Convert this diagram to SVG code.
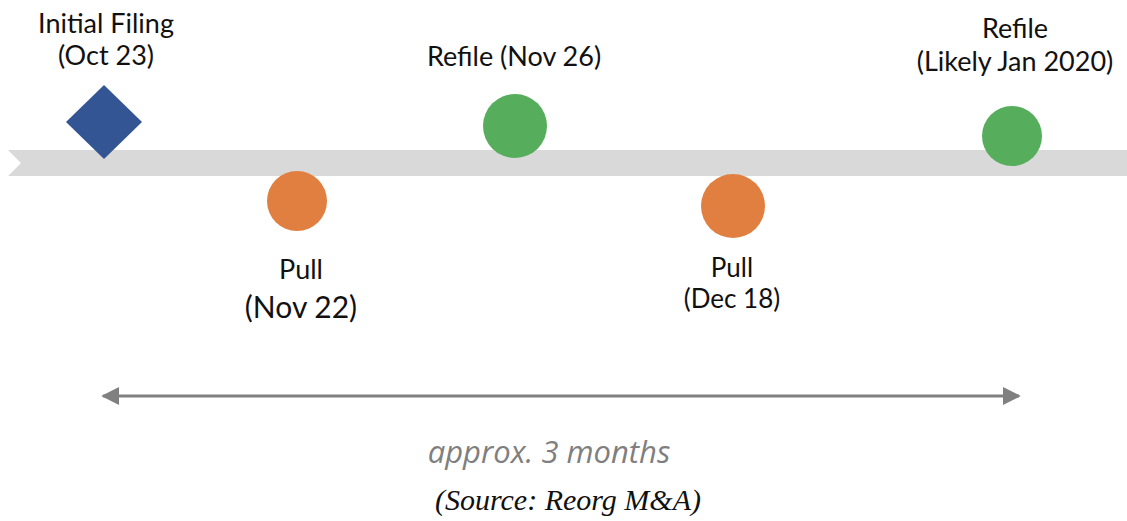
<svg xmlns="http://www.w3.org/2000/svg" width="1127" height="521" viewBox="0 0 1127 521">
<style>
.lbl{font-family:Lato,"Liberation Sans",sans-serif;fill:#111;text-anchor:middle}
.band{fill:#D9D9D9}
.orange{fill:#E07F40}
.green{fill:#56AD5C}
.blue{fill:#335593}
</style>
<defs>
<marker id="ah" viewBox="0 0 10 10" refX="9" refY="5" markerWidth="6" markerHeight="6" orient="auto-start-reverse">
<path d="M0,0 L10,5 L0,10 z" fill="#808080"/>
</marker>
</defs>
<rect width="1127" height="521" fill="#fff"/>
<g id="timeline"><polygon class="band" points="8,150 1127,150 1127,176 8,176 21,163"/></g>
<g id="connectors">
<line x1="103" y1="396" x2="1019" y2="396" stroke="#808080" stroke-width="3" marker-start="url(#ah)" marker-end="url(#ah)"/>
</g>
<g id="initial-filing">
<polygon class="blue" points="104,85 142,122 104,159 66,122"/>
<text class="lbl" x="106" y="33" font-size="27">Initial Filing</text>
<text class="lbl" x="106" y="65" font-size="27">(Oct 23)</text>
</g>
<g id="pull1">
<circle class="orange" cx="297" cy="201" r="30"/>
<text class="lbl" x="301" y="279" font-size="27">Pull</text>
<text class="lbl" x="301" y="318" font-size="30">(Nov 22)</text>
</g>
<g id="refile1">
<circle class="green" cx="515" cy="126" r="32"/>
<text class="lbl" x="514" y="66" font-size="27">Refile (Nov 26)</text>
</g>
<g id="pull2">
<circle class="orange" cx="733" cy="206" r="32"/>
<text class="lbl" x="732" y="277" font-size="26">Pull</text>
<text class="lbl" x="732" y="308" font-size="26">(Dec 18)</text>
</g>
<g id="refile2">
<circle class="green" cx="1012" cy="136" r="30"/>
<text class="lbl" x="1015" y="38" font-size="27">Refile</text>
<text class="lbl" x="1015" y="71" font-size="27">(Likely Jan 2020)</text>
</g>
<g id="duration">
<text x="549" y="463" font-family="'Open Sans','Noto Sans',sans-serif" font-style="italic" font-size="31" fill="#7F7F7F" text-anchor="middle">approx. 3 months</text>
</g>
<g id="source">
<text x="568" y="510" font-family="'Liberation Serif',serif" font-style="italic" font-size="30" fill="#111" text-anchor="middle">(Source: Reorg M&amp;A)</text>
</g>
</svg>
